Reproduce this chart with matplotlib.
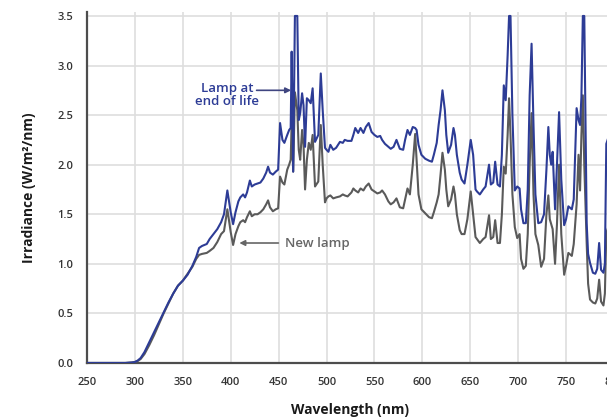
import matplotlib
matplotlib.use("Agg")
import matplotlib.pyplot as plt
import numpy as np

# wavelength (nm) and irradiance (W/m2/nm)
wavelength = [250, 290, 297, 300, 303, 306, 310, 315, 320, 325, 330, 335, 340, 345,
              350, 355, 360, 364, 367, 370, 375, 378, 382, 386, 390, 393, 396.5, 400,
              402.5, 405, 408, 410, 413, 415, 417, 420, 422, 425, 428, 431, 434, 437,
              439, 441, 444, 447, 449.5, 451.5, 454, 456, 459, 461, 462.6, 463.6, 465.2,
              467, 469.5, 471, 472.5, 474.5, 476, 477.6, 479.5, 481.5, 483.5, 485.5,
              488, 491.4, 494, 496, 498.4, 500, 502, 504, 507, 510, 514, 517, 519, 522,
              526, 528, 530, 533, 535.5, 538.5, 541, 544, 547, 550, 553, 556, 558, 561,
              564.5, 567, 570, 573, 576.5, 580, 582, 584.5, 587, 590, 592.5, 594, 596,
              599, 603, 607, 610, 612, 615, 617, 619, 621, 623.5, 625, 627, 630, 632.5,
              634, 636, 639, 641, 644, 647, 650.5, 653, 655.5, 657, 660, 663.5, 666,
              669.6, 671.5, 674, 676, 678.5, 681, 683, 685, 687, 689, 690.5, 692, 694,
              696.5, 699, 701.5, 703, 705.5, 708, 710, 712, 714, 716, 718, 721, 724,
              727, 729.5, 731.5, 733, 734.5, 736, 738.5, 740.5, 742.7, 745, 748, 750,
              752.4, 756, 758, 761, 763, 764.6, 766, 767.5, 769, 771.5, 773, 775, 778,
              780.5, 782.5, 784.5, 786.5, 789, 790.5, 792, 795]

new_lamp = [0, 0, 0.005, 0.01, 0.02, 0.04, 0.09, 0.18, 0.28, 0.39, 0.50, 0.60, 0.70, 0.78,
            0.83, 0.90, 0.97, 1.05, 1.09, 1.10, 1.11, 1.13, 1.16, 1.22, 1.30, 1.33, 1.55, 1.32,
            1.19, 1.30, 1.38, 1.42, 1.44, 1.42, 1.47, 1.53, 1.48, 1.50, 1.50, 1.52, 1.55, 1.60,
            1.64, 1.57, 1.53, 1.55, 1.56, 1.88, 1.82, 1.80, 1.95, 2.00, 2.05, 2.42, 1.93,
            2.73, 2.55, 2.15, 2.05, 2.35, 2.20, 1.75, 2.05, 2.22, 2.15, 2.30,
            1.78, 1.83, 2.40, 2.00, 1.62, 1.66, 1.68, 1.69, 1.66, 1.67, 1.68, 1.70, 1.69, 1.68,
            1.72, 1.76, 1.74, 1.72, 1.76, 1.74, 1.78, 1.81, 1.75, 1.73, 1.71, 1.72, 1.74, 1.70,
            1.63, 1.60, 1.62, 1.66, 1.57, 1.56, 1.65, 1.76, 1.70, 2.00, 2.31, 2.05, 1.70,
            1.55, 1.51, 1.47, 1.46, 1.52, 1.62, 1.70, 1.90, 2.12, 1.95, 1.75, 1.58, 1.65, 1.78,
            1.70, 1.50, 1.34, 1.30, 1.30, 1.45, 1.73, 1.50, 1.27, 1.25, 1.21, 1.25, 1.27,
            1.49, 1.25, 1.27, 1.44, 1.21, 1.21, 1.50, 1.98, 1.91, 2.30, 2.67, 2.30, 1.70,
            1.37, 1.26, 1.30, 1.05, 0.95, 0.98, 1.30, 2.00, 2.52, 1.70, 1.30, 1.19, 0.97,
            1.05, 1.50, 1.69, 1.45, 1.40, 1.35, 1.00, 1.40, 2.00, 1.30, 0.89, 0.98,
            1.11, 1.08, 1.20, 1.60, 2.10, 1.74, 2.30, 2.70, 2.00, 1.21, 0.80, 0.64, 0.61,
            0.60, 0.65, 0.84, 0.62, 0.58, 0.70, 1.31, 1.40]

end_of_life = [0, 0, 0.005, 0.01, 0.025, 0.05, 0.11, 0.21, 0.31, 0.41, 0.51, 0.61, 0.70, 0.78,
               0.83, 0.89, 0.98, 1.07, 1.16, 1.18, 1.20, 1.25, 1.30, 1.35, 1.42, 1.50, 1.74, 1.52,
               1.40, 1.52, 1.63, 1.67, 1.70, 1.67, 1.72, 1.84, 1.78, 1.80, 1.81, 1.82, 1.86, 1.92,
               1.98, 1.92, 1.90, 1.93, 1.95, 2.42, 2.25, 2.22, 2.30, 2.35, 2.37, 3.14, 1.93,
               3.70, 3.70, 2.45, 2.52, 2.72, 2.60, 2.18, 2.67, 2.65, 2.62, 2.77,
               2.23, 2.30, 2.92, 2.55, 2.17, 2.15, 2.13, 2.20, 2.15, 2.17, 2.23, 2.22, 2.25, 2.24,
               2.24, 2.30, 2.37, 2.32, 2.37, 2.32, 2.38, 2.42, 2.33, 2.30, 2.28, 2.29, 2.25, 2.21,
               2.18, 2.16, 2.18, 2.25, 2.16, 2.15, 2.25, 2.35, 2.30, 2.38, 2.37, 2.35, 2.20,
               2.10, 2.06, 2.04, 2.03, 2.10, 2.22, 2.40, 2.55, 2.75, 2.55, 2.30, 2.12, 2.20, 2.37,
               2.30, 2.10, 1.92, 1.85, 1.81, 2.00, 2.25, 2.10, 1.75, 1.73, 1.70, 1.75, 1.78,
               2.00, 1.80, 1.82, 2.03, 1.80, 1.78, 2.10, 2.80, 2.65, 3.10, 3.70, 3.70, 2.50,
               1.74, 1.78, 1.76, 1.55, 1.41, 1.41, 1.75, 2.70, 3.22, 2.40, 1.70, 1.41, 1.42,
               1.50, 1.95, 2.38, 2.10, 2.00, 2.13, 1.55, 2.00, 2.53, 1.85, 1.39, 1.45,
               1.58, 1.55, 1.65, 2.57, 2.45, 2.40, 2.68, 3.70, 3.70, 1.41, 1.10, 1.01, 0.91,
               0.90, 0.95, 1.21, 0.94, 0.91, 1.00, 2.21, 2.30]

x_ticks = [250, 300, 350, 400, 450, 500, 550, 600, 650, 700, 750, 800]
y_ticks = [0.0, 0.5, 1.0, 1.5, 2.0, 2.5, 3.0, 3.5]

blue = "#2d3c96"
grey = "#5a5a5a"
font = ["Open Sans", "DejaVu Sans"]

fig = plt.figure(figsize=(6.07, 4.19), dpi=100)
ax = fig.add_axes([0.1433, 0.1337, 0.8682, 0.8384])

# the chart tops out at 3.5, peaks are cut flat there
ax.plot(wavelength, np.minimum(new_lamp, 3.5), color=grey, lw=1.5, zorder=3)
ax.plot(wavelength, np.minimum(end_of_life, 3.5), color=blue, lw=1.5, zorder=4)

ax.set_xlim(250, 800)
ax.set_ylim(0, 3.543)
ax.set_xticks(x_ticks)
ax.set_yticks(y_ticks)
ax.set_yticklabels(["%.1f" % v for v in y_ticks])
ax.grid(True, color="#dedede", lw=1.2, zorder=0)
ax.set_axisbelow(True)

for s in ["top", "right"]:
    ax.spines[s].set_visible(False)
for s in ["left", "bottom"]:
    ax.spines[s].set_color("#4d4d4d")
    ax.spines[s].set_linewidth(1.6)

ax.tick_params(length=0, labelsize=8, labelcolor="#333333", pad=10)
for lab in ax.get_xticklabels() + ax.get_yticklabels():
    lab.set_family(font)
    lab.set_fontweight("semibold")

ax.set_xlabel("Wavelength (nm)", fontsize=10, fontweight="bold", family=font,
              color="#1a1a1a", labelpad=11)
ax.set_ylabel("Irradiance (W/m²/nm)", fontsize=10, fontweight="bold", family=font,
              color="#1a1a1a", labelpad=15)

ax.text(396, 2.70, "Lamp at\nend of life", ha="center", va="center", fontsize=9.5,
        color=blue, fontweight="semibold", family=font, linespacing=1.0)
ax.annotate("", xy=(463, 2.75), xytext=(427, 2.75),
            arrowprops=dict(arrowstyle="-|>", color="#3f4580", lw=1.2,
                            mutation_scale=8, shrinkA=0, shrinkB=0))
ax.annotate("New lamp", xy=(409, 1.21), xytext=(457, 1.21),
            ha="left", va="center", fontsize=9.5, color="#666666", fontweight="semibold",
            family=font,
            arrowprops=dict(arrowstyle="-|>", color="#666666", lw=1.2,
                            mutation_scale=8, shrinkA=3, shrinkB=0))

fig.savefig("out.png", dpi=100)
